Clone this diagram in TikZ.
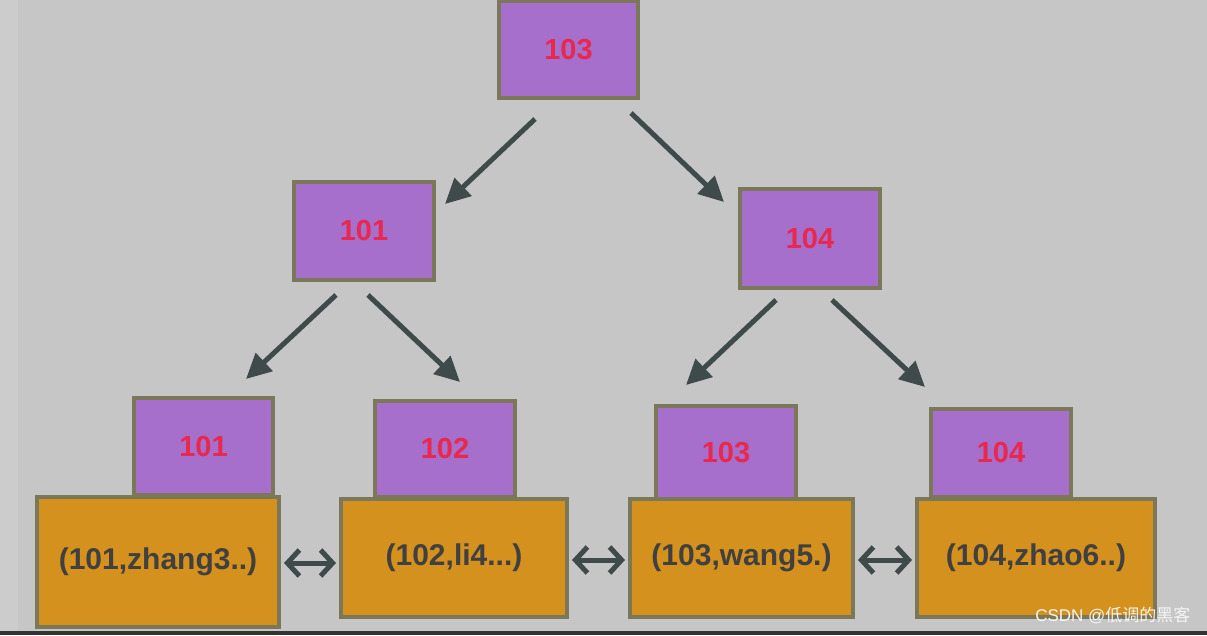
\documentclass[tikz,border=0pt]{standalone}
\usepackage{fontspec}
\setmainfont{Liberation Sans}
\newfontfamily\cjkfont{Noto Sans CJK SC}
\usetikzlibrary{arrows.meta}
\definecolor{bg}{HTML}{C6C6C6}
\definecolor{edge}{HTML}{7A7858}
\definecolor{keyfill}{HTML}{A56FCB}
\definecolor{keytext}{HTML}{E8284E}
\definecolor{rowfill}{HTML}{D4911E}
\definecolor{rowtext}{HTML}{404040}
\definecolor{arrowc}{HTML}{3F4A4A}
\tikzset{
  keybox/.style={draw=edge, line width=4pt, fill=keyfill, inner sep=0pt,
    font=\fontsize{29}{31}\selectfont\bfseries, text=keytext},
  rowbox/.style={draw=edge, line width=4pt, fill=rowfill, inner sep=0pt,
    font=\fontsize{30}{32}\selectfont\bfseries, text=rowtext},
  treearrow/.style={draw=arrowc, line width=5pt, -{Triangle[length=25pt,width=24pt]}},
  linkarrow/.style={draw=arrowc, line width=5pt, {Straight Barb[length=12pt,width=26pt,line width=5pt]}-{Straight Barb[length=12pt,width=26pt,line width=5pt]}}
}
\begin{document}
\begin{tikzpicture}[x=1pt,y=-1pt]
\fill[bg] (0,0) rectangle (1207,635);
\fill[white,opacity=0.12] (0,0) rectangle (18,635);
\fill[black!80] (0,631) rectangle (1207,635);
\useasboundingbox (0,0) rectangle (1207,635);

% key nodes
\node[keybox, minimum width=139pt, minimum height=97pt] (root) at (568.5,49.5) {103};
\node[keybox, minimum width=140pt, minimum height=98pt] (m1) at (364,231) {101};
\node[keybox, minimum width=140pt, minimum height=99pt] (m2) at (810,238.5) {104};

\node[keybox, minimum width=139pt, minimum height=97pt] (k1) at (203.5,446.5) {101};
\node[keybox, minimum width=140pt, minimum height=96pt] (k2) at (445,449) {102};
\node[keybox, minimum width=140pt, minimum height=93pt] (k3) at (726,452.5) {103};
\node[keybox, minimum width=140pt, minimum height=88pt] (k4) at (1001,453) {104};

% row nodes
\node[rowbox, minimum width=242pt, minimum height=130pt] (r1) at (158,562) {(101,zhang3..)};
\node[rowbox, minimum width=226pt, minimum height=118pt] (r2) at (454,558) {(102,li4...)};
\node[rowbox, minimum width=223pt, minimum height=118pt] (r3) at (741.5,558) {(103,wang5.)};
\node[rowbox, minimum width=238pt, minimum height=118pt] (r4) at (1036,558) {(104,zhao6..)};

% tree arrow end points
\coordinate (a1s) at (535,119); \coordinate (a1e) at (445,204);
\coordinate (a2s) at (631,113); \coordinate (a2e) at (724,202);
\coordinate (a3s) at (336,295); \coordinate (a3e) at (246,379);
\coordinate (a4s) at (368,295); \coordinate (a4e) at (460,382);
\coordinate (a5s) at (776,300); \coordinate (a5e) at (686,385);
\coordinate (a6s) at (832,300); \coordinate (a6e) at (925,387);

\draw[treearrow] (a1s) -- (a1e);
\draw[treearrow] (a2s) -- (a2e);
\draw[treearrow] (a3s) -- (a3e);
\draw[treearrow] (a4s) -- (a4e);
\draw[treearrow] (a5s) -- (a5e);
\draw[treearrow] (a6s) -- (a6e);

% links between leaves
\draw[linkarrow, shorten <=3pt, shorten >=3pt] (r1.east |- 0,563) -- (r2.west |- 0,563);
\draw[linkarrow, shorten <=3pt, shorten >=3pt] (r2.east |- 0,560) -- (r3.west |- 0,560);
\draw[linkarrow, shorten <=3pt, shorten >=3pt] (r3.east |- 0,560) -- (r4.west |- 0,560);

% watermark
\node[anchor=east, text=white!92!gray, font=\fontsize{17}{19}\selectfont] (wm) at (1194,615) {CSDN @\cjkfont 低调的黑客};
\end{tikzpicture}
\end{document}
